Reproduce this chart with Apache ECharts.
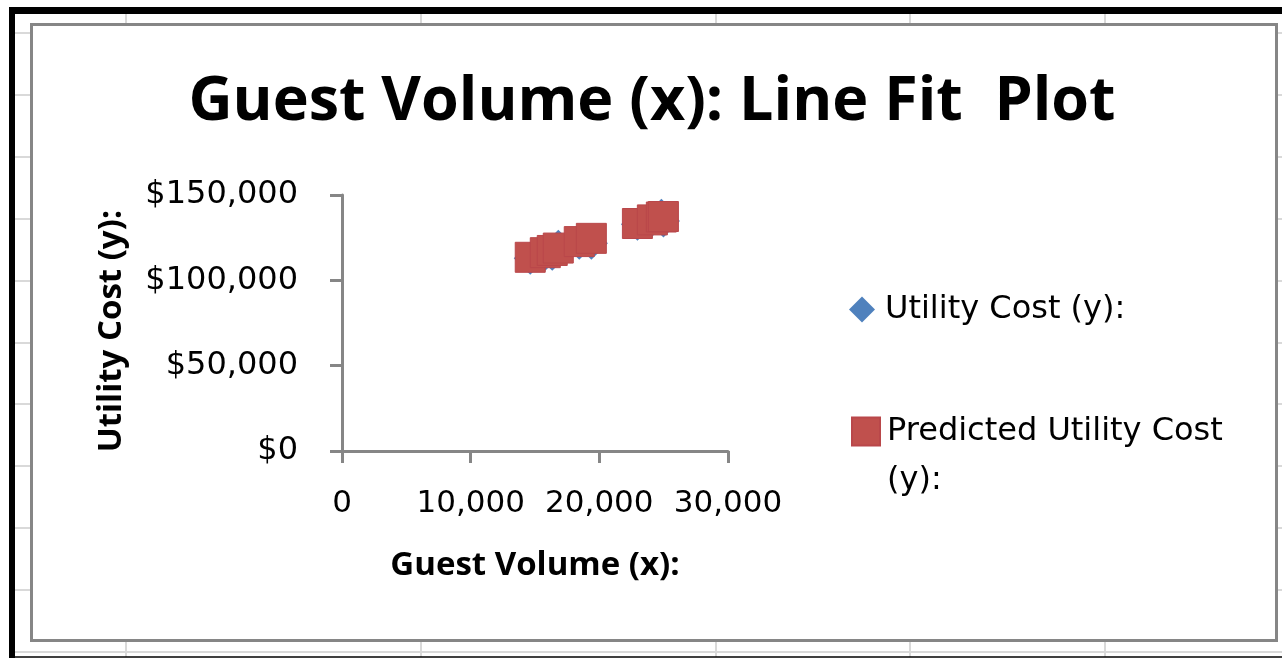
<!DOCTYPE html>
<html>
<head>
<meta charset="utf-8">
<title>Guest Volume (x): Line Fit Plot</title>
<script src="https://cdn.jsdelivr.net/npm/echarts@6/dist/echarts.min.js"></script>
<style>
  html, body { margin: 0; padding: 0; background: #ffffff; }
  #chart { width: 1282px; height: 658px; }
</style>
</head>
<body>
<div id="chart"></div>
<script>
// Observations: guest volume, actual utility cost and the regression prediction
const guestVolume   = [14630, 15800, 16340, 16810, 18440, 19380, 22960, 24120, 24820, 24980];
const utilityCost   = [112900, 115300, 115300, 120000, 121800, 121800, 132900, 135300, 138200, 134700];
const predictedCost = [113500, 116200, 117500, 118900, 122700, 124600, 133300, 135400, 137100, 137400];

// Axis tick labels
const xTickLabels = ['0', '10,000', '20,000', '30,000'];
const yTickLabels = ['$0', '$50,000', '$100,000', '$150,000'];

// Worksheet cell lines behind the embedded chart
const sheetRows = [33, 95, 157, 219, 281, 343, 404, 466, 528, 590, 652];
const sheetCols = [126, 421, 716, 910, 1105];

const X_STEP = 10000;
const Y_STEP = 50000;

const AXIS_GRAY = '#868686';
const SHEET_GRAY = '#d9d9d9';
const LABEL_FONT = '"DejaVu Sans", sans-serif';
const TITLE_FONT = '"Open Sans", sans-serif';

const chart = echarts.init(document.getElementById('chart'), null, { renderer: 'canvas' });

const sheetLines = [];
sheetRows.forEach(function (y) {
  sheetLines.push({
    type: 'line', z: -3, silent: true,
    shape: { x1: 15, y1: y, x2: 1282, y2: y },
    style: { stroke: SHEET_GRAY, lineWidth: 2 }
  });
});
sheetCols.forEach(function (x) {
  sheetLines.push({
    type: 'line', z: -3, silent: true,
    shape: { x1: x, y1: 14, x2: x, y2: 657 },
    style: { stroke: SHEET_GRAY, lineWidth: 2 }
  });
});

const frame = [
  // chart area with its grey border
  { type: 'rect', z: -2, silent: true,
    shape: { x: 31.5, y: 24.5, width: 1245, height: 616 },
    style: { fill: '#ffffff', stroke: AXIS_GRAY, lineWidth: 3 } },
  // worksheet selection outline
  { type: 'rect', z: -1, silent: true,
    shape: { x: 9, y: 7, width: 6, height: 651 }, style: { fill: '#000000' } },
  { type: 'rect', z: -1, silent: true,
    shape: { x: 9, y: 7, width: 1273, height: 7 }, style: { fill: '#000000' } },
  { type: 'line', z: -1, silent: true,
    shape: { x1: 9, y1: 657, x2: 1282, y2: 657 }, style: { stroke: '#000000', lineWidth: 1.5 } }
];

const legendText = {
  fontFamily: LABEL_FONT,
  fontSize: 32,
  color: '#000000',
  lineHeight: 49
};

const option = {
  animation: false,
  backgroundColor: '#ffffff',
  title: {
    text: 'Guest Volume (x): Line Fit  Plot',
    left: 652,
    top: 72,
    textAlign: 'center',
    padding: 0,
    textStyle: {
      fontFamily: TITLE_FONT,
      fontWeight: 'bold',
      fontSize: 61,
      color: '#000000'
    }
  },
  legend: [
    {
      orient: 'vertical',
      left: 849,
      top: 285,
      padding: 0,
      itemWidth: 26,
      itemHeight: 26,
      data: [{ name: 'Utility Cost (y):', icon: 'diamond' }],
      itemStyle: { opacity: 1 },
      textStyle: Object.assign({ padding: [0, 0, 0, 5] }, legendText)
    },
    {
      orient: 'vertical',
      left: 851,
      top: 358,
      padding: 0,
      itemWidth: 28,
      itemHeight: 28,
      data: [{ name: 'Predicted Utility Cost (y):', icon: 'rect' }],
      itemStyle: { opacity: 1 },
      formatter: function () { return '\nPredicted Utility Cost\n(y):'; },
      textStyle: Object.assign({ padding: [0, 0, 0, 2] }, legendText)
    }
  ],
  grid: {
    left: 342,
    right: 1282 - 728,
    top: 195,
    bottom: 658 - 451,
    containLabel: false,
    outerBoundsMode: 'none'
  },
  xAxis: {
    type: 'value',
    min: 0,
    max: 30000,
    interval: X_STEP,
    name: 'Guest Volume (x):',
    nameLocation: 'middle',
    nameGap: 115,
    nameTextStyle: {
      fontFamily: TITLE_FONT,
      fontWeight: 'bold',
      fontSize: 33,
      color: '#000000',
      verticalAlign: 'middle'
    },
    axisLine: { show: true, onZero: false, lineStyle: { color: AXIS_GRAY, width: 3 } },
    axisTick: { show: true, inside: false, length: 12, lineStyle: { color: AXIS_GRAY, width: 3 } },
    splitLine: { show: false },
    axisLabel: {
      margin: 37,
      fontFamily: LABEL_FONT,
      fontSize: 31,
      color: '#000000',
      formatter: function (v) { return xTickLabels[Math.round(v / X_STEP)]; }
    }
  },
  yAxis: {
    type: 'value',
    min: 0,
    max: 150000,
    interval: Y_STEP,
    name: 'Utility Cost (y):',
    nameLocation: 'middle',
    nameRotate: 90,
    nameGap: 230,
    nameTextStyle: {
      fontFamily: TITLE_FONT,
      fontWeight: 'bold',
      fontSize: 33,
      color: '#000000',
      verticalAlign: 'middle',
      padding: [0, 16, 0, 0]
    },
    axisLine: { show: true, onZero: false, lineStyle: { color: AXIS_GRAY, width: 3 } },
    axisTick: { show: true, inside: false, length: 12, lineStyle: { color: AXIS_GRAY, width: 3 } },
    splitLine: { show: false },
    axisLabel: {
      margin: 44,
      fontFamily: LABEL_FONT,
      fontSize: 32,
      color: '#000000',
      formatter: function (v) { return yTickLabels[Math.round(v / Y_STEP)]; }
    }
  },
  series: [
    {
      name: 'Utility Cost (y):',
      type: 'scatter',
      symbol: 'diamond',
      symbolSize: 33,
      itemStyle: { color: '#4F81BD', opacity: 1 },
      data: guestVolume.map(function (x, i) { return [x, utilityCost[i]]; })
    },
    {
      name: 'Predicted Utility Cost (y):',
      type: 'scatter',
      symbol: 'rect',
      symbolSize: 30,
      itemStyle: { color: '#C0504D', borderColor: '#B9474A', borderWidth: 1, opacity: 1 },
      data: guestVolume.map(function (x, i) { return [x, predictedCost[i]]; })
    }
  ],
  graphic: { elements: sheetLines.concat(frame) }
};

chart.setOption(option);
</script>
</body>
</html>
